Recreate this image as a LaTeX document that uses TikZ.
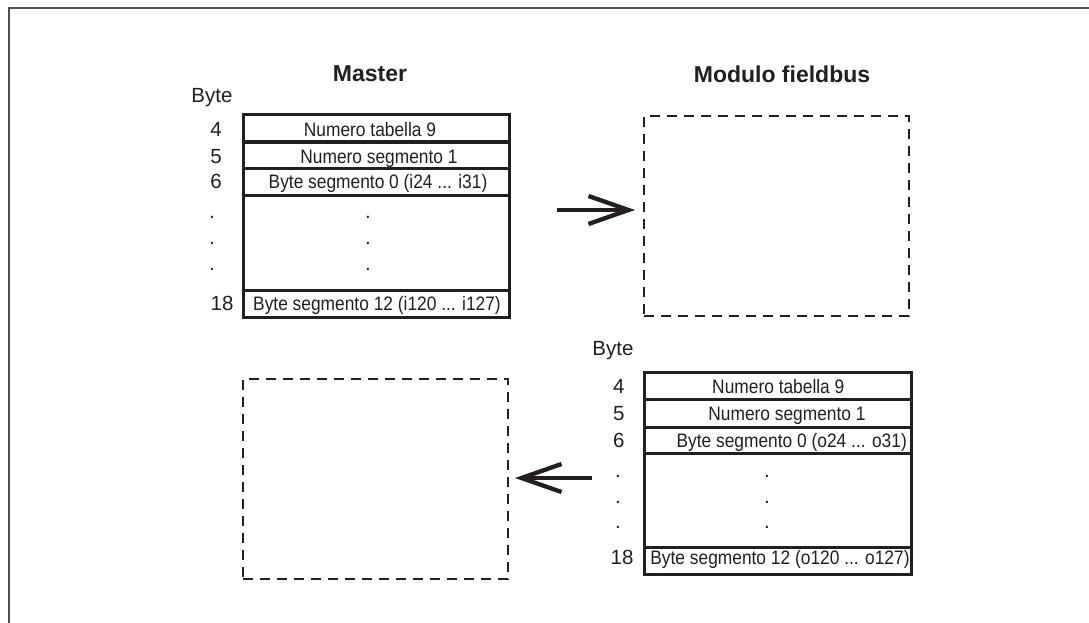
\documentclass[tikz,border=0pt]{standalone}
\usepackage{fontspec}
\setmainfont{Liberation Sans}
\newfontfamily\boxfont[FakeStretch=0.89]{Liberation Sans}
\usetikzlibrary{arrows.meta}
\definecolor{ink}{HTML}{231F20}
\definecolor{framegray}{HTML}{505050}
\begin{document}
\begin{tikzpicture}[x=1pt,y=-1pt,
  rowbox/.style={draw=ink, line width=3pt, inner sep=0pt, outer sep=0pt, anchor=north west, minimum width=266pt},
  rowboxb/.style={rowbox, minimum width=267pt},
  dbox/.style={draw=ink, line width=2.8pt, dash pattern=on 10pt off 7pt, inner sep=0pt, outer sep=0pt, anchor=north west, minimum width=265pt, minimum height=200pt},
  celltext/.style={font=\boxfont\fontsize{19.5}{20}\selectfont, text=ink, anchor=base, inner sep=0pt},
  lbl/.style={font=\fontsize{20.5}{21}\selectfont, text=ink, anchor=base, inner sep=0pt},
  ttl/.style={font=\bfseries\fontsize{23}{24}\selectfont, text=ink, anchor=base, inner sep=0pt},
  arr/.style={draw=ink, line width=4.3pt, -{Straight Barb[length=40pt, width=28pt]}}
]
\useasboundingbox (0,0) rectangle (1089,623);
\fill[white] (0,0) rectangle (1089,623);
% frame
\draw[framegray, line width=1.8pt] (9,623) -- (9,8) -- (1089,8);

% titles
\node[ttl] (master) at (370,82) {Master};
\node[ttl] (fieldbus) at (782,82.5) {Modulo fieldbus};

% ---- Master table
\node[lbl] (mbyte) at (212,102.7) {Byte};
\node[rowbox, minimum height=27pt] (m4) at (243,115) {};
\node[rowbox, minimum height=26pt] (m5) at (243,142) {};
\node[rowbox, minimum height=27pt] (m6) at (243,168) {};
\node[rowbox, minimum height=95pt] (mg) at (243,195) {};
\node[rowbox, minimum height=27pt] (m18) at (243,290) {};
\node[celltext] (mt4) at (370,136.8) {Numero tabella 9};
\node[celltext] (mt5) at (379,163.3) {Numero segmento 1};
\node[celltext] (mt6) at (378,188.5) {Byte segmento 0 (i24 ... i31)};
\node[celltext] (mt18) at (377,310.7) {Byte segmento 12 (i120 ... i127)};
\node[lbl] (mn4) at (216,136.3) {4};
\node[lbl] (mn5) at (216,163.3) {5};
\node[lbl] (mn6) at (216,188.5) {6};
\node[lbl] (mn18) at (222,310.3) {18};
\node[lbl] (md1) at (212,218.5) {.};
\node[lbl] (md2) at (212,244.5) {.};
\node[lbl] (md3) at (212,270.5) {.};
\node[lbl] (mc1) at (368,218.5) {.};
\node[lbl] (mc2) at (368,244.5) {.};
\node[lbl] (mc3) at (368,270.5) {.};

% ---- Fieldbus placeholder (top right)
\node[dbox] (fb) at (644,116) {};

% ---- Placeholder bottom left
\node[dbox] (ph) at (243,379) {};

% ---- Fieldbus table (bottom right)
\node[lbl] (fbyte) at (613,355) {Byte};
\node[rowboxb, minimum height=27pt] (f4) at (644.5,372) {};
\node[rowboxb, minimum height=28pt] (f5) at (644.5,399) {};
\node[rowboxb, minimum height=26pt] (f6) at (644.5,427) {};
\node[rowboxb, minimum height=94pt] (fg) at (644.5,453) {};
\node[rowboxb, minimum height=27pt] (f18) at (644.5,547) {};
\node[celltext] (ft4) at (778.3,393.5) {Numero tabella 9};
\node[celltext] (ft5) at (787,420) {Numero segmento 1};
\node[celltext] (ft6) at (791.7,447.3) {Byte segmento 0 (o24 ... o31)};
\node[celltext] (ft18) at (780,564) {Byte segmento 12 (o120 ... o127)};
\node[lbl] (fn4) at (618.7,393.3) {4};
\node[lbl] (fn5) at (618.7,420) {5};
\node[lbl] (fn6) at (618.7,447.3) {6};
\node[lbl] (fn18) at (622,564) {18};
\node[lbl] (fd1) at (618,477) {.};
\node[lbl] (fd2) at (618,503.5) {.};
\node[lbl] (fd3) at (618,528) {.};
\node[lbl] (fc1) at (767,477) {.};
\node[lbl] (fc2) at (767,503.5) {.};
\node[lbl] (fc3) at (767,528) {.};

% ---- arrows
\coordinate (a1) at (557,210);
\draw[arr, shorten >=9pt] (a1) -- (a1 -| fb.west);
\coordinate (a2) at (592,478);
\draw[arr, shorten >=7pt] (a2) -- (a2 -| ph.east);
\end{tikzpicture}
\end{document}
